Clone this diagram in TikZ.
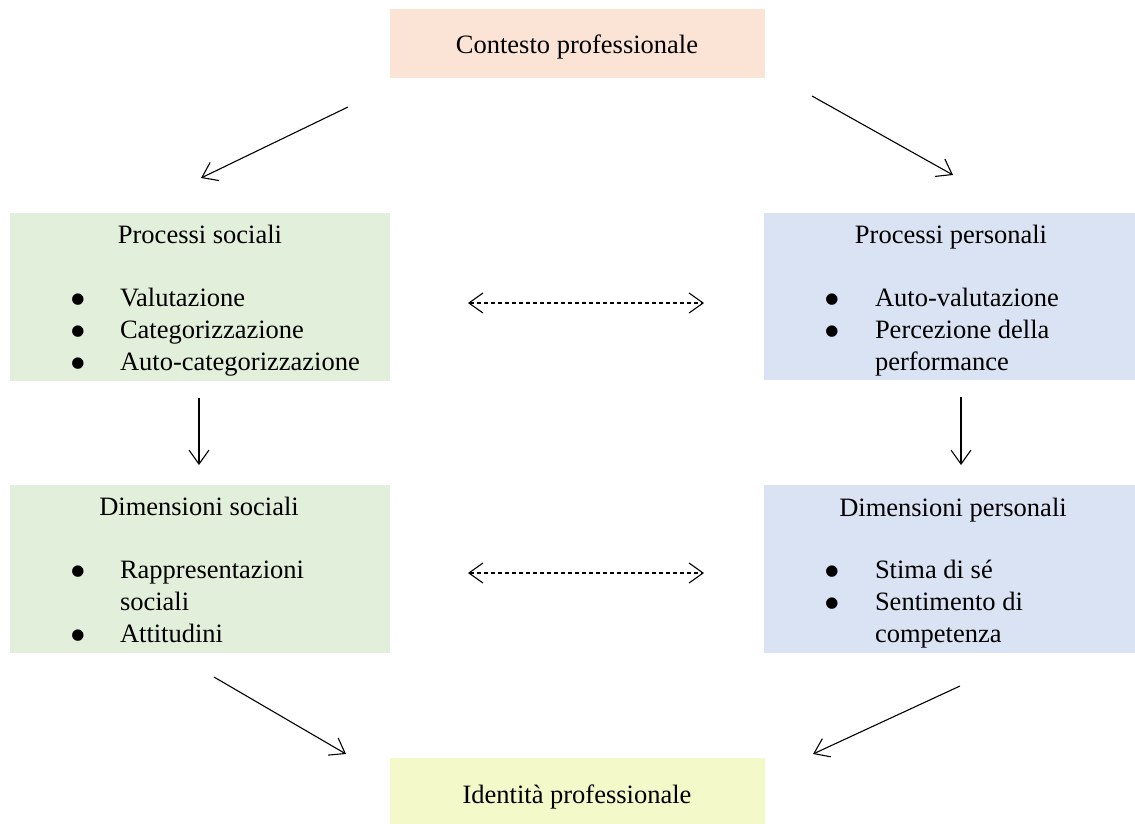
\documentclass[tikz,border=0pt]{standalone}
\usepackage{fontspec}
\setmainfont{Liberation Serif}
\newfontfamily\symfnt{DejaVu Sans}
\usetikzlibrary{arrows.meta}
\definecolor{boxorange}{HTML}{FBE3D6}
\definecolor{boxgreen}{HTML}{E2EFDA}
\definecolor{boxblue}{HTML}{DAE3F3}
\definecolor{boxyellow}{HTML}{F3F9C8}
\tikzset{
  panel/.style={rectangle, inner sep=0pt, outer sep=0pt, draw=none, anchor=north west},
  txt/.style={inner sep=0pt, outer sep=0pt, font=\fontsize{26.5}{32}\selectfont},
  item/.style={txt, anchor=base west, text width=260pt, align=flush left},
  bul/.style={inner sep=0pt, outer sep=0pt, font=\symfnt\fontsize{15}{15}\selectfont, anchor=base},
  conn/.style={line width=1.1pt, -{Straight Barb[length=14pt,width=20pt,line width=1.1pt]}},
  dconn/.style={line width=1.1pt, dash pattern=on 4pt off 3pt, {Straight Barb[length=14pt,width=20pt,line width=1.1pt]}-{Straight Barb[length=14pt,width=20pt,line width=1.1pt]}}
}
\begin{document}
\begin{tikzpicture}[x=1pt,y=-1pt]
\useasboundingbox (0,0) rectangle (1135,823);
% boxes
\node[panel, fill=boxorange, minimum width=375pt, minimum height=69pt] (ctx) at (390,9) {};
\node[panel, fill=boxgreen, minimum width=380pt, minimum height=168pt] (ps) at (10,213) {};
\node[panel, fill=boxblue, minimum width=371pt, minimum height=167pt] (pp) at (764,213) {};
\node[panel, fill=boxgreen, minimum width=380pt, minimum height=168pt] (ds) at (10,485) {};
\node[panel, fill=boxblue, minimum width=371pt, minimum height=168pt] (dp) at (764,485) {};
\node[panel, fill=boxyellow, minimum width=375pt, minimum height=66pt] (id) at (390,758) {};
% texts
\node[txt, anchor=base] (ctxt) at (577,53) {Contesto professionale};
\node[txt, anchor=base] (pst) at (200,243) {Processi sociali};
\node[bul] (psb1) at (78,303) {●};
\node[item] (psi1) at (120,306) {Valutazione};
\node[bul] (psb2) at (78,335) {●};
\node[item] (psi2) at (120,338) {Categorizzazione};
\node[bul] (psb3) at (78,367) {●};
\node[item] (psi3) at (120,370) {Auto-categorizzazione};

\node[txt, anchor=base] (ppt) at (951,243) {Processi personali};
\node[bul] (ppb1) at (832,303) {●};
\node[item] (ppi1) at (875,306) {Auto-valutazione};
\node[bul] (ppb2) at (832,335) {●};
\node[item, text width=200pt] (ppi2) at (875,338) {Percezione della\\performance};

\node[txt, anchor=base] (dst) at (199,515) {Dimensioni sociali};
\node[bul] (dsb1) at (78,575) {●};
\node[item, text width=200pt] (dsi1) at (120,578) {Rappresentazioni\\sociali};
\node[bul] (dsb2) at (78,639) {●};
\node[item] (dsi2) at (120,642) {Attitudini};

\node[txt, anchor=base] (dpt) at (953,516) {Dimensioni personali};
\node[bul] (dpb1) at (832,575) {●};
\node[item] (dpi1) at (875,578) {Stima di sé};
\node[bul] (dpb2) at (832,607) {●};
\node[item, text width=200pt] (dpi2) at (875,610) {Sentimento di\\competenza};

\node[txt, anchor=base] (idt) at (577,803) {Identità professionale};

% connector end points
\coordinate (a1s) at (348,107); \coordinate (a1e) at (201,178);
\coordinate (a2s) at (812,96);  \coordinate (a2e) at (953,175);
\coordinate (a3s) at (199,398); \coordinate (a3e) at (199,465);
\coordinate (a4s) at (961,397); \coordinate (a4e) at (961,465);
\coordinate (a5s) at (214,677); \coordinate (a5e) at (346,754);
\coordinate (a6s) at (960,686); \coordinate (a6e) at (813,754);
\coordinate (d1s) at (468,303); \coordinate (d1e) at (704,303);
\coordinate (d2s) at (468,573); \coordinate (d2e) at (704,573);

\draw[conn] (a1s) -- (a1e);
\draw[conn] (a2s) -- (a2e);
\draw[conn] (a3s) -- (a3e);
\draw[conn] (a4s) -- (a4e);
\draw[conn] (a5s) -- (a5e);
\draw[conn] (a6s) -- (a6e);
\draw[dconn] (d1s) -- (d1e);
\draw[dconn] (d2s) -- (d2e);
\end{tikzpicture}
\end{document}
